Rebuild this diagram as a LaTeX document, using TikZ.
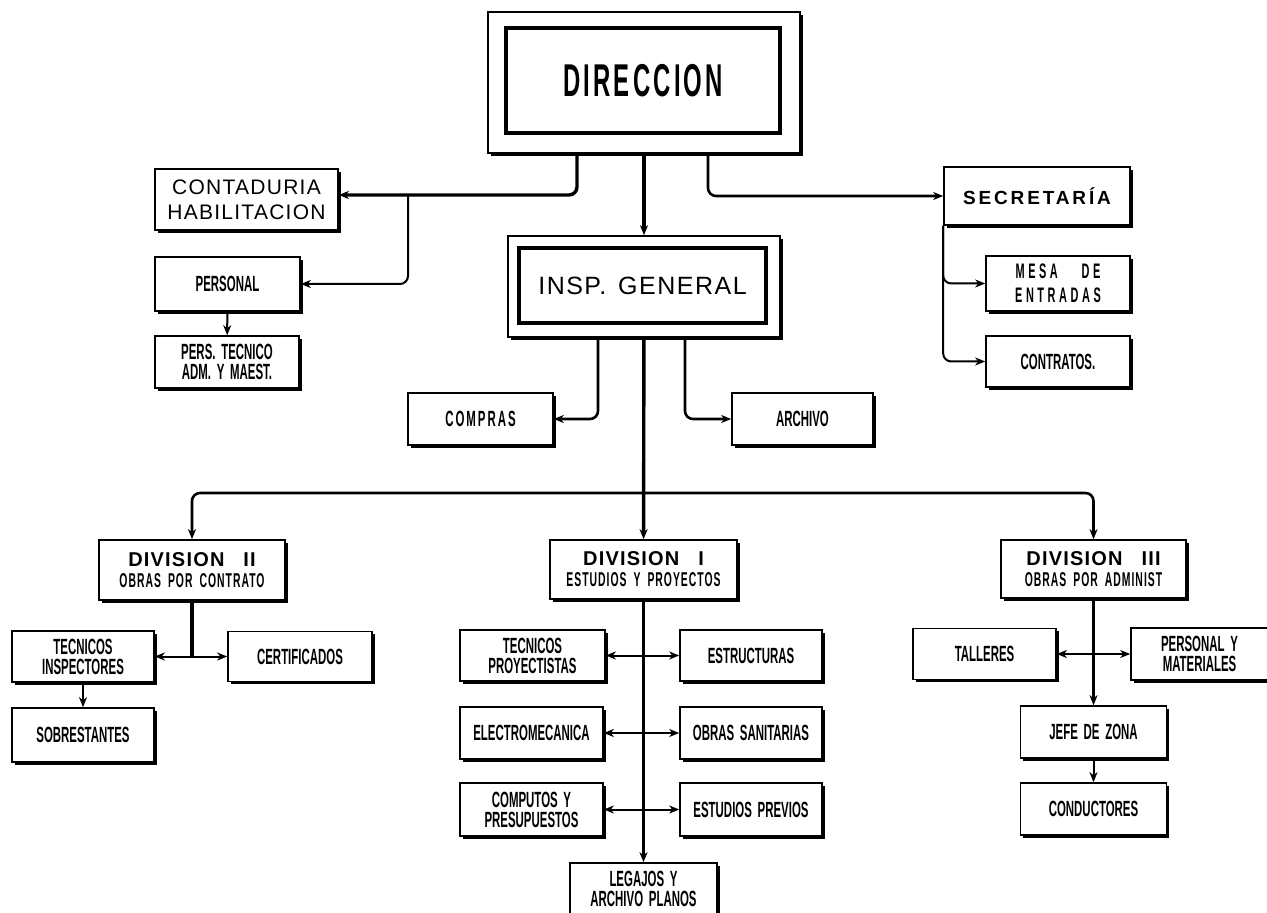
\documentclass[tikz,border=0pt]{standalone}
\usepackage{fontspec}
\usepackage{tikz}
\usetikzlibrary{arrows.meta,shadows,positioning}
\tikzset{>={Stealth[length=5pt,width=4pt,inset=1.5pt]}}
\setmainfont{Liberation Sans}
\newfontfamily\condfont{Liberation Sans}[FakeStretch=0.52,WordSpace=1.8]
\newfontfamily\widefont{Liberation Sans}[LetterSpace=6,WordSpace=1.4]
\newcommand\divtitle[1]{{\widefont\fontsize{10}{10}\selectfont #1}}

\begin{document}
\begin{tikzpicture}[x=0.5pt, y=-0.5pt,
                    office/.style={draw, line width=0.8pt, fill=white, inner sep=0pt, align=center,
                                   drop shadow={shadow xshift=1.4pt, shadow yshift=-1.4pt, opacity=1, fill=black},
                                   font=\condfont\bfseries\fontsize{11}{10}\selectfont},
                    heavybox/.style={draw, line width=1.8pt, fill=white, inner sep=0pt, align=center},
                    boxsize/.style 2 args={minimum width=#1*0.5pt, minimum height=#2*0.5pt},
                    divisionbox/.style={office, font=\condfont\bfseries\addfontfeature{LetterSpace=5}\fontsize{10}{10.5}\selectfont},
                    trunk/.style={line width=1.7pt, rounded corners=4pt},
                    branch/.style={line width=1.3pt, rounded corners=4pt},
                    link/.style={line width=1pt, rounded corners=4pt},
                   ]

\useasboundingbox (0,0) rectangle (1267,913);

\node[office, boxsize={312}{141}] (dirframe) at (644,82.5) {};
\node[heavybox, boxsize={274}{105},
      font=\condfont\bfseries\addfontfeature{LetterSpace=7}\fontsize{23}{23}\selectfont] (dir) at (643,80.5) {DIRECCION};

\node[office, boxsize={272}{101}] (inspframe) at (644,286.5) {};
\node[heavybox, boxsize={247}{75}, font=\widefont\fontsize{12.5}{12.5}\selectfont] (insp) at (642.5,285.5) {INSP. GENERAL};

\node[office, boxsize={183}{61}, font=\widefont\fontsize{10.5}{12.5}\selectfont] (contaduria) at (246.5,199.5) {CONTADURIA\\HABILITACION};
\node[office, boxsize={145}{54}] (personal) at (227.5,284) {PERSONAL};
\node[office, boxsize={144}{52}] (perstec) at (227,362) {PERS. TECNICO\\ADM. Y MAEST.};

\node[office, boxsize={186}{58}, font=\widefont\bfseries\addfontfeature{LetterSpace=15}\fontsize{9.5}{9.5}\selectfont] (secretaria) at (1037,196) {SECRETARÍA};
\node[office, boxsize={144}{55}, font=\condfont\bfseries\addfontfeature{LetterSpace=17}\fontsize{10.5}{12}\selectfont] (mesa) at (1058,283.5) {MESA\ \ DE\\ENTRADAS};
\node[office, boxsize={144}{51}] (contratos) at (1058,361.5) {CONTRATOS.};

\node[office, boxsize={145}{52}, font=\condfont\bfseries\addfontfeature{LetterSpace=9}\fontsize{11}{10}\selectfont] (compras) at (480.5,419) {COMPRAS};
\node[office, boxsize={141}{52}] (archivo) at (802.5,419) {ARCHIVO};

\node[divisionbox, boxsize={186}{60}] (div2) at (192,570) {\divtitle{DIVISION\ \ II}\\OBRAS POR CONTRATO};
\node[divisionbox, boxsize={187}{59}] (div1) at (643.5,569.5) {\divtitle{DIVISION\ \ I}\\ESTUDIOS Y PROYECTOS};
\node[divisionbox, boxsize={185}{58}] (div3) at (1093.5,569) {\divtitle{DIVISION\ \ III}\\OBRAS POR ADMINIST};

\node[office, boxsize={142}{51}] (tecinsp) at (83,656.5) {TECNICOS\\INSPECTORES};
\node[office, boxsize={144}{50}] (certif) at (300,656.5) {CERTIFICADOS};
\node[office, boxsize={142}{54}] (sobrest) at (83,735) {SOBRESTANTES};

\node[office, boxsize={145}{51}] (tecproy) at (532.5,655.5) {TECNICOS\\PROYECTISTAS};
\node[office, boxsize={142}{51}] (estruct) at (751,655.5) {ESTRUCTURAS};
\node[office, boxsize={143}{52}] (electro) at (531.5,733) {ELECTROMECANICA};
\node[office, boxsize={142}{52}] (obras) at (751,733) {OBRAS SANITARIAS};
\node[office, boxsize={143}{53}] (computos) at (531.5,809.5) {COMPUTOS Y\\PRESUPUESTOS};
\node[office, boxsize={142}{53}] (estudios) at (751,809.5) {ESTUDIOS PREVIOS};
\node[office, boxsize={147}{52}] (legajos) at (643.5,889) {LEGAJOS Y\\ARCHIVO PLANOS};

\node[office, boxsize={143}{51}] (talleres) at (984.5,654) {TALLERES};
\node[office, boxsize={137}{52}] (persmat) at (1199.5,654) {PERSONAL Y\\MATERIALES};
\node[office, boxsize={146}{52}] (jefe) at (1093.5,732) {JEFE DE ZONA};
\node[office, boxsize={146}{52}] (conduct) at (1093.5,809) {CONDUCTORES};

\coordinate (legl) at (577,195);
\coordinate (legr) at (708,193);
\coordinate (persfork) at (408,195);
\coordinate (inspl) at (598,417);
\coordinate (inspr) at (685,417);
\coordinate (hbar) at (643.5,493);

\draw[trunk,->] (dirframe.south -| legl) |- ([yshift=2.25pt]contaduria.east);
\draw[link,->] (persfork) |- (personal.east);
\draw[link,->] (personal) -- (perstec);
\draw[trunk,->] (dirframe) -- (inspframe);
\draw[branch,->] (dirframe.south -| legr) |- (secretaria.west);
\draw[link,->] (secretaria.south west) |- (mesa.west);
\draw[link,->] (secretaria.south west) |- (contratos.west);

\draw[branch,->] (inspframe.south -| inspl) |- (compras.east);
\draw[branch,->] (inspframe.south -| inspr) |- (archivo.west);
\draw[trunk,->] (inspframe) -- (div1);
\draw[branch,->] (hbar) -| (div2.north);
\draw[branch,->] (hbar) -| (div3.north);

\draw[trunk] (div2.south) -- (div2.south |- tecinsp.east);
\draw[link,<->] (tecinsp.east) -- (certif.west);
\draw[link,->] (tecinsp) -- (sobrest);

\draw[trunk,->] (div1) -- (legajos);
\draw[link,<->] (tecproy.east) -- (estruct.west);
\draw[link,<->] (electro.east) -- (obras.west);
\draw[link,<->] (computos.east) -- (estudios.west);

\draw[trunk,->] (div3) -- (jefe);
\draw[link,<->] (talleres.east) -- (persmat.west);
\draw[link,->] (jefe) -- (conduct);

\end{tikzpicture}
\end{document}
